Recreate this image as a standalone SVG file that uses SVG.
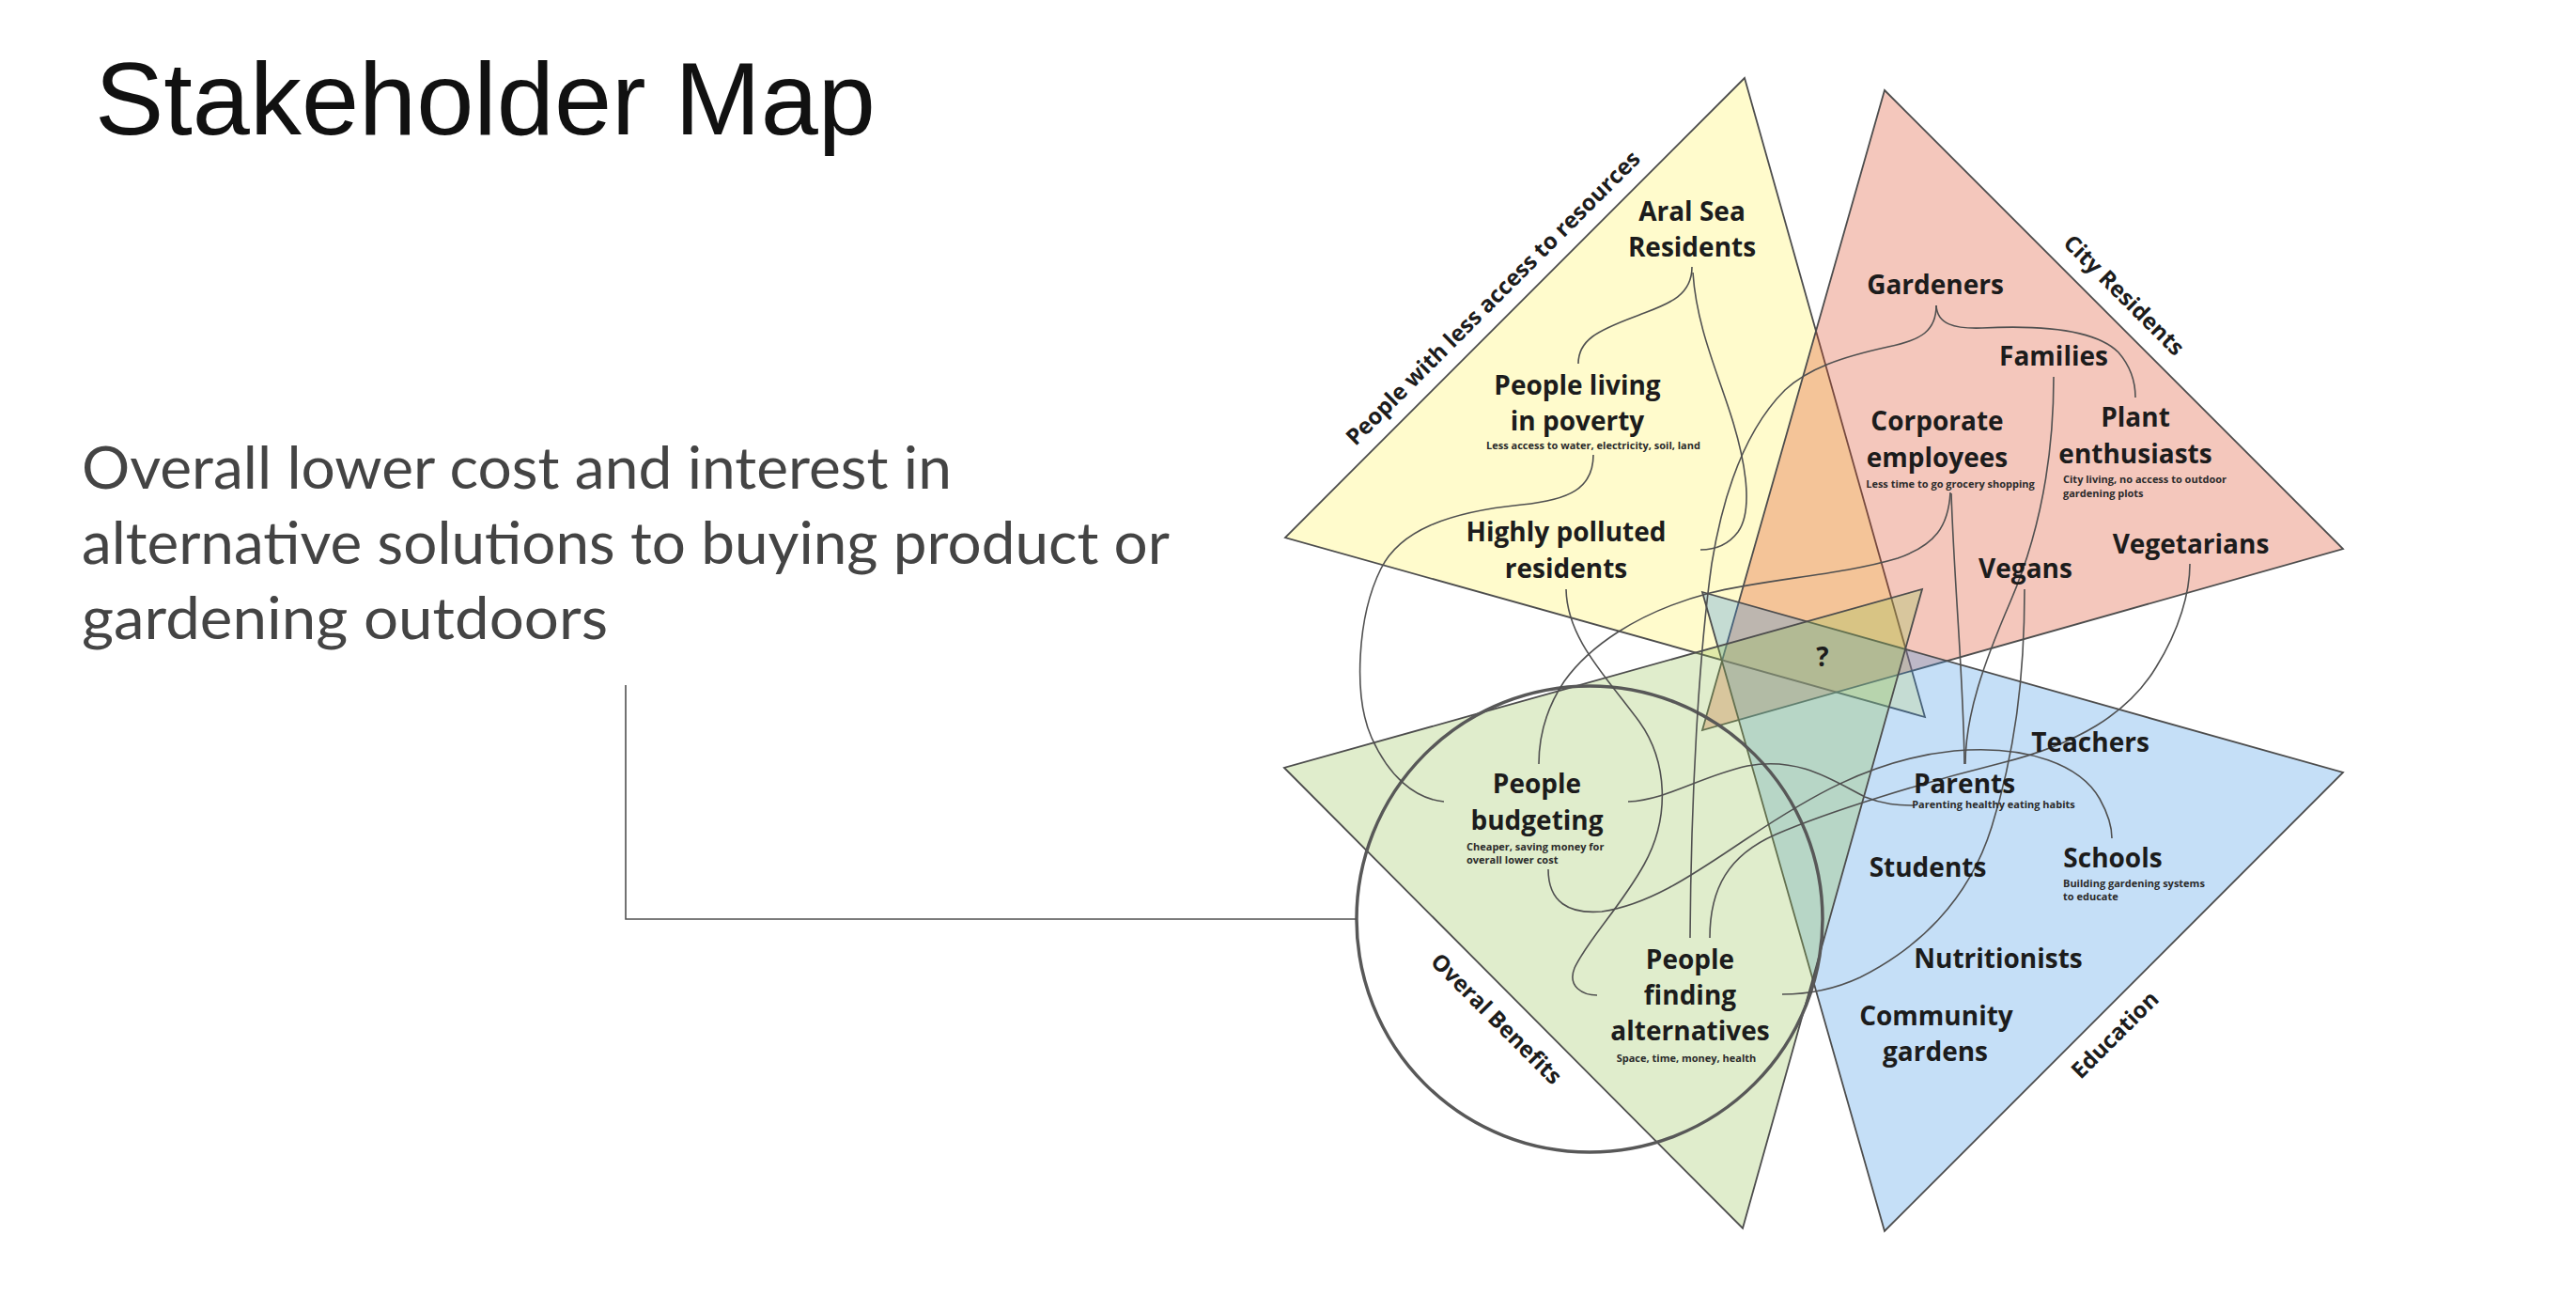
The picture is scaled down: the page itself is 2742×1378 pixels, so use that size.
<svg xmlns="http://www.w3.org/2000/svg" width="2742" height="1378" viewBox="0 0 2742 1378">
<style>
.tri{stroke:#4d4d4d;stroke-width:1.8;fill-opacity:0.3;stroke-linejoin:miter}
.conn{fill:none;stroke:#505050;stroke-width:1.6}
.lbl{font-family:"Open Sans","Noto Sans",sans-serif;font-weight:700;font-size:28px;fill:#1c1c1c;text-anchor:middle}
.sub{font-family:"Open Sans","Noto Sans",sans-serif;font-weight:700;font-size:11px;fill:#2b2b2b}
.subc{text-anchor:middle}
.edge{font-family:"Open Sans","Noto Sans",sans-serif;font-weight:700;font-size:24px;fill:#1c1c1c;text-anchor:middle}
.title{font-family:"Liberation Sans",Arial,sans-serif;font-size:110px;fill:#111}
.body{font-family:Lato,"Open Sans",sans-serif;font-weight:400;font-size:62px;fill:#444}
</style>
<rect width="2742" height="1378" fill="#ffffff"/>

<g id="heading">
<text class="title" x="101" y="143" textLength="831" lengthAdjust="spacingAndGlyphs">Stakeholder Map</text>
<text class="body" x="87" y="520" textLength="926" lengthAdjust="spacingAndGlyphs">Overall lower cost and interest in</text>
<text class="body" x="87" y="600" textLength="1158" lengthAdjust="spacingAndGlyphs">alternative solutions to buying product or</text>
<text class="body" x="87" y="680" textLength="560" lengthAdjust="spacingAndGlyphs">gardening outdoors</text>
</g>

<g id="regions">
<g id="region-less-access"><polygon class="tri" fill="#FFF255" points="1857,83 1368,572 2049,763"/></g>
<g id="region-city"><polygon class="tri" fill="#DA4420" points="2006,96 2494,584 1812,777"/></g>
<g id="region-education"><polygon class="tri" fill="#3E94E4" points="1812,630 2494,822 2006,1310"/></g>
<g id="region-benefits"><polygon class="tri" fill="#98C355" points="1367,817 1855,1307 2046,627"/></g>
</g>

<g id="overall-circle">
<circle cx="1692" cy="978" r="248" fill="none" stroke="#585858" stroke-width="3.5"/>
</g>

<g id="connectors">
<path class="conn" d="M666,729 V978 H1444" stroke-width="2.4" stroke="#5a5a5a"/>
<path class="conn" d="M1801,284 C1801,318 1770,325 1740,337 C1700,352 1680,362 1680,387"/>
<path class="conn" d="M1802,290 C1806,350 1830,400 1845,450 C1860,500 1865,545 1850,566 C1838,582 1822,585 1810,585"/>
<path class="conn" d="M1696,484 C1696,520 1670,532 1620,537 C1540,545 1490,565 1470,605 C1445,655 1440,740 1460,785 C1478,825 1505,850 1537,853"/>
<path class="conn" d="M1667,627 C1668,680 1710,720 1745,768 C1775,810 1778,870 1750,920 C1725,965 1690,1000 1676,1030 C1668,1050 1685,1059 1700,1059"/>
<path class="conn" d="M2061,325 C2061,352 2045,362 2010,369 C1960,380 1925,392 1900,415 C1860,455 1835,520 1822,600 C1808,700 1800,850 1799,998"/>
<path class="conn" d="M2061,325 C2062,345 2080,350 2110,349 C2170,346 2230,350 2255,375 C2268,390 2273,405 2273,423"/>
<path class="conn" d="M2076,524 C2074,560 2060,580 2020,594 C1960,612 1880,616 1820,631 C1740,652 1690,690 1665,725 C1645,755 1638,785 1638,813"/>
<path class="conn" d="M2077,525 C2080,620 2090,720 2091,813"/>
<path class="conn" d="M2186,401 C2186,490 2170,570 2140,640 C2112,705 2092,760 2092,813"/>
<path class="conn" d="M2155,627 C2155,720 2145,800 2120,880 C2095,960 2040,1010 1980,1040 C1950,1054 1920,1058 1897,1058"/>
<path class="conn" d="M1733,853 C1775,851 1810,826 1860,815 C1915,805 1950,830 1985,848 C2005,856 2020,857 2037,857"/>
<path class="conn" d="M1648,925 C1648,960 1670,973 1705,970 C1760,962 1810,925 1860,892 C1920,852 1990,808 2080,799 C2160,792 2215,815 2235,850 C2245,868 2248,880 2248,892"/>
<path class="conn" d="M1820,998 C1820,945 1840,910 1890,888 C1950,862 2050,832 2130,812 C2210,792 2265,760 2295,710 C2320,670 2331,630 2331,600"/>
</g>

<g id="region-labels">
<text class="edge" transform="translate(1595,323) rotate(-45)">People with less access to resources</text>
<text class="edge" transform="translate(2255,320) rotate(45)">City Residents</text>
<text class="edge" transform="translate(1587,1090) rotate(45)">Overal Benefits</text>
<text class="edge" transform="translate(2257,1107) rotate(-45)">Education</text>
</g>

<g id="node-aral-sea"><text class="lbl" x="1801" y="235">Aral Sea</text><text class="lbl" x="1801" y="273">Residents</text></g>
<g id="node-poverty"><text class="lbl" x="1679" y="420">People living</text><text class="lbl" x="1679" y="458">in poverty</text><text class="sub subc" x="1696" y="478">Less access to water, electricity, soil, land</text></g>
<g id="node-polluted"><text class="lbl" x="1667" y="576">Highly polluted</text><text class="lbl" x="1667" y="615">residents</text></g>
<g id="node-gardeners"><text class="lbl" x="2060" y="313">Gardeners</text></g>
<g id="node-families"><text class="lbl" x="2186" y="389">Families</text></g>
<g id="node-corporate"><text class="lbl" x="2062" y="458">Corporate</text><text class="lbl" x="2062" y="497">employees</text><text class="sub subc" x="2076" y="519">Less time to go grocery shopping</text></g>
<g id="node-plant"><text class="lbl" x="2273" y="454">Plant</text><text class="lbl" x="2273" y="493">enthusiasts</text><text class="sub" x="2196" y="514">City living, no access to outdoor</text><text class="sub" x="2196" y="529">gardening plots</text></g>
<g id="node-vegetarians"><text class="lbl" x="2332" y="589">Vegetarians</text></g>
<g id="node-vegans"><text class="lbl" x="2156" y="615">Vegans</text></g>
<g id="node-unknown"><text class="lbl" x="1940" y="709">?</text></g>
<g id="node-budgeting"><text class="lbl" x="1636" y="844">People</text><text class="lbl" x="1636" y="883">budgeting</text><text class="sub" x="1561" y="905">Cheaper, saving money for</text><text class="sub" x="1561" y="919">overall lower cost</text></g>
<g id="node-teachers"><text class="lbl" x="2225" y="800">Teachers</text></g>
<g id="node-parents"><text class="lbl" x="2091" y="844">Parents</text><text class="sub subc" x="2122" y="860">Parenting healthy eating habits</text></g>
<g id="node-students"><text class="lbl" x="2052" y="933">Students</text></g>
<g id="node-schools"><text class="lbl" x="2249" y="923">Schools</text><text class="sub" x="2196" y="944">Building gardening systems</text><text class="sub" x="2196" y="958">to educate</text></g>
<g id="node-alternatives"><text class="lbl" x="1799" y="1031">People</text><text class="lbl" x="1799" y="1069">finding</text><text class="lbl" x="1799" y="1107">alternatives</text><text class="sub subc" x="1795" y="1130">Space, time, money, health</text></g>
<g id="node-nutritionists"><text class="lbl" x="2127" y="1030">Nutritionists</text></g>
<g id="node-community"><text class="lbl" x="2061" y="1091">Community</text><text class="lbl" x="2060" y="1129">gardens</text></g>
</svg>
